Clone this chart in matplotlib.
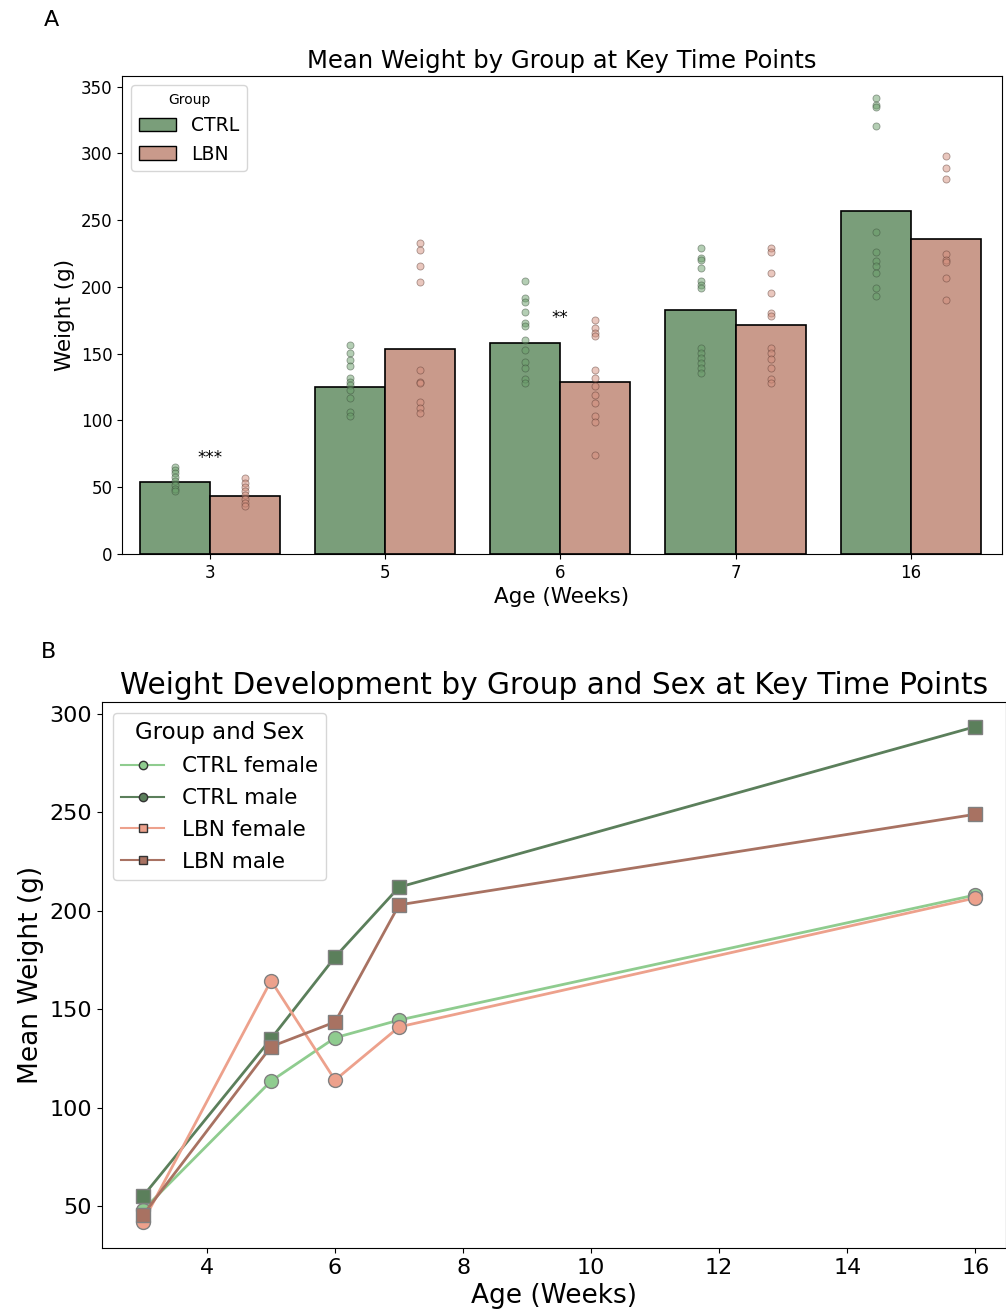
# Weight plots: group means with individual animals, and sex-split development
import numpy as np
import matplotlib.pyplot as plt
from matplotlib.lines import Line2D
from matplotlib.patches import Patch

# Panel A data
weeks = ['3', '5', '6', '7', '16']
ctrl_mean = [54, 125, 158, 183, 257]
lbn_mean = [43.5, 153.5, 129, 171.5, 236]

ctrl_pts = [
    [65, 63, 61, 58, 55, 52, 49, 47],
    [156.5, 150.5, 145.5, 140.5, 131.5, 129, 126.5, 123, 116.5, 106.5, 103],
    [204.5, 191.5, 189, 181.5, 173, 170.5, 160.5, 152.5, 143.5, 139, 131, 128],
    [229.5, 221.5, 220.5, 214.5, 204.5, 201.5, 199, 154, 150.5, 146.5, 143, 139, 135.5],
    [341.5, 336.5, 335, 320.5, 241, 226.5, 219.5, 215.5, 210.5, 199, 193.5],
]
lbn_pts = [
    [57, 53, 50, 47, 44, 41, 38, 36],
    [233, 228, 216, 203.5, 137.5, 128.5, 128, 113.5, 109, 105.5],
    [175.5, 169, 165.5, 163, 137.5, 131.5, 125.5, 119, 113, 103, 99, 74],
    [229, 226.5, 210.5, 195.5, 180.5, 178, 154, 150.5, 146, 139, 131, 128],
    [298, 289, 281, 225, 220.5, 219, 206.5, 190.5],
]
stars = {0: '***', 2: '**'}
star_y = {0: 72, 2: 177}

# Panel B data
ages = [3, 5, 6, 7, 16]
ctrl_female = [48, 113.5, 135.5, 144.5, 208]
ctrl_male = [55, 135, 176.5, 212, 293.5]
lbn_female = [42, 164.5, 114, 141, 206.5]
lbn_male = [45.5, 131, 143.5, 203, 249]

c_ctrl = '#7a9e7a'
c_lbn = '#c99a8b'

fig = plt.figure(figsize=(10.06, 13.14), dpi=100)

# ---- A ----
ax1 = fig.add_axes([0.1213, 0.5784, 0.8748, 0.3638])
x = np.arange(len(weeks))
w = 0.4
ax1.bar(x - w / 2, ctrl_mean, w, color=c_ctrl, edgecolor='black', linewidth=1.2, label='CTRL')
ax1.bar(x + w / 2, lbn_mean, w, color=c_lbn, edgecolor='black', linewidth=1.2, label='LBN')
for i in range(len(weeks)):
    ax1.scatter([x[i] - w / 2] * len(ctrl_pts[i]), ctrl_pts[i], s=26, color='#6a9e6a',
                alpha=0.5, edgecolor='#3a4a3a', linewidth=0.6, zorder=3)
    ax1.scatter([x[i] + w / 2] * len(lbn_pts[i]), lbn_pts[i], s=26, color='#d4907e',
                alpha=0.5, edgecolor='#5a3a32', linewidth=0.6, zorder=3)
for i, s in stars.items():
    ax1.text(x[i], star_y[i], s, ha='center', va='center', fontsize=12)
ax1.set_xticks(x)
ax1.set_xticklabels(weeks, fontsize=12)
ax1.tick_params(axis='y', labelsize=12)
ax1.set_xlim(-0.5, 4.52)
ax1.set_ylim(0, 358)
ax1.set_xlabel('Age (Weeks)', fontsize=15.5)
ax1.set_ylabel('Weight (g)', fontsize=15.5)
ax1.set_title('Mean Weight by Group at Key Time Points', fontsize=17.5)
ax1.legend(handles=[Patch(facecolor=c_ctrl, edgecolor='black', label='CTRL'),
                    Patch(facecolor=c_lbn, edgecolor='black', label='LBN')],
           title='Group', loc='upper left', fontsize=13.5, title_fontsize=10)
fig.text(0.044, 0.985, 'A', fontsize=16, va='center')

# ---- B ----
ax2 = fig.add_axes([0.1014, 0.0502, 0.8986, 0.4155])
series = [
    ('CTRL female', ctrl_female, '#8fcc8f', 'o'),
    ('CTRL male', ctrl_male, '#5b7f5b', 's'),
    ('LBN female', lbn_female, '#eda18c', 'o'),
    ('LBN male', lbn_male, '#a87262', 's'),
]
for name, vals, col, mk in series:
    ax2.plot(ages, vals, color=col, linewidth=2, marker=mk, markersize=10,
             markeredgecolor='grey', markeredgewidth=1)
handles = [
    Line2D([], [], color='#8fcc8f', marker='o', markeredgecolor='#333333', label='CTRL female'),
    Line2D([], [], color='#5b7f5b', marker='o', markeredgecolor='#333333', label='CTRL male'),
    Line2D([], [], color='#eda18c', marker='s', markeredgecolor='#333333', label='LBN female'),
    Line2D([], [], color='#a87262', marker='s', markeredgecolor='#333333', label='LBN male'),
]
ax2.legend(handles=handles, title='Group and Sex', loc='upper left', fontsize=15.5,
           title_fontsize=16.5, labelspacing=0.55)
ax2.set_xlim(2.36, 16.48)
ax2.set_ylim(28.7, 306)
ax2.set_xticks([4, 6, 8, 10, 12, 14, 16])
ax2.set_yticks([50, 100, 150, 200, 250, 300])
ax2.tick_params(labelsize=16)
ax2.set_xlabel('Age (Weeks)', fontsize=19)
ax2.set_ylabel('Mean Weight (g)', fontsize=19)
ax2.set_title('Weight Development by Group and Sex at Key Time Points', fontsize=21.3)
fig.text(0.041, 0.504, 'B', fontsize=16, va='center')

fig.savefig('out.png', dpi=100)
